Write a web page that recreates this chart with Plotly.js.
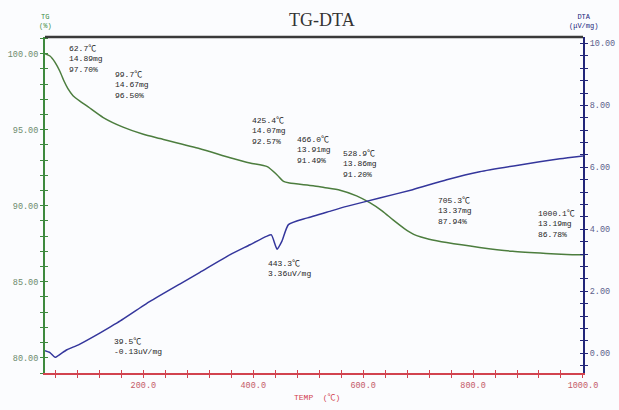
<!DOCTYPE html>
<html>
<head>
<meta charset="utf-8">
<script src="https://cdn.plot.ly/plotly-3.0.1.min.js"></script>
<style>
  html, body { margin: 0; padding: 0; background: #fbfcfe; }
  #chart { width: 619px; height: 410px; }
</style>
</head>
<body>
<div id="chart"></div>
<script>
// TG curve: temperature (°C) and residual mass (%)
const tgTemp = [21, 30, 39, 48, 56, 62.7, 72, 85, 99.7, 127, 163, 200, 230, 303, 358, 394, 425.4, 443, 455, 466.0, 509, 528.9, 558, 588, 612, 635, 655, 675, 692, 705.3, 720, 752, 812, 872, 933, 970, 1000.1];
const tgPct = [100.00, 99.85, 99.45, 98.85, 98.17, 97.70, 97.24, 96.87, 96.50, 95.80, 95.17, 94.70, 94.42, 93.75, 93.16, 92.81, 92.57, 92.04, 91.60, 91.49, 91.32, 91.20, 91.02, 90.65, 90.20, 89.65, 89.05, 88.50, 88.12, 87.94, 87.80, 87.58, 87.26, 87.00, 86.86, 86.80, 86.78];

// DTA curve: temperature (°C) and signal (µV/mg)
const dtaTemp = [21, 30, 39.5, 49, 61, 82, 115, 140, 158, 212, 267, 303, 358, 394, 424, 433, 443.3, 452, 464, 497, 539, 570, 630, 690, 752, 812, 885, 958, 1000];
const dtaVal = [0.08, 0.02, -0.13, -0.03, 0.11, 0.27, 0.59, 0.85, 1.04, 1.67, 2.24, 2.61, 3.18, 3.50, 3.77, 3.82, 3.36, 3.61, 4.15, 4.36, 4.58, 4.74, 5.01, 5.28, 5.60, 5.86, 6.08, 6.28, 6.37];

// Analysed TG points: temperature, mass (mg), residual (%)
const tgMarkTemp = [62.7, 99.7, 425.4, 466.0, 528.9, 705.3, 1000.1];
const tgMarkMass = [14.89, 14.67, 14.07, 13.91, 13.86, 13.37, 13.19];
const tgMarkPct = [97.70, 96.50, 92.57, 91.49, 91.20, 87.94, 86.78];

// Analysed DTA points: temperature, signal
const dtaMarkTemp = [39.5, 443.3];
const dtaMarkVal = [-0.13, 3.36];

// Axis ranges
const tempRange = [21, 1000.1];
const tgRange = [79.0, 101.1];
const dtaRange = [-0.64, 10.21];

// Label offsets (pixels) from each analysed point
const tgLabelShift = [[0, 46], [26, 38], [-16, 52], [6, 49], [18, 40], [16, 42], [-46, 47]];
const dtaLabelShift = [[58, 21], [-10, -9]];

const GREEN = '#3e8a3e';
const NAVY = '#22267a';
const RED = '#d2434f';
const monoFont = 'Liberation Mono, DejaVu Sans Mono, Noto Sans CJK JP, monospace';

const traces = [
  {
    x: tgTemp, y: tgPct, xaxis: 'x', yaxis: 'y', type: 'scatter', mode: 'lines',
    line: { color: '#4c7d3e', width: 1.5, shape: 'spline', smoothing: 0.6 },
    hoverinfo: 'skip', showlegend: false, cliponaxis: true
  },
  {
    x: dtaTemp, y: dtaVal, xaxis: 'x', yaxis: 'y2', type: 'scatter', mode: 'lines',
    line: { color: '#34369c', width: 1.5, shape: 'spline', smoothing: 0.5 },
    hoverinfo: 'skip', showlegend: false
  },
  // empty carriers for the inward tick overlays
  { x: [], y: [], xaxis: 'x2', yaxis: 'y', type: 'scatter', showlegend: false, hoverinfo: 'skip' },
  { x: [], y: [], xaxis: 'x', yaxis: 'y3', type: 'scatter', showlegend: false, hoverinfo: 'skip' },
  { x: [], y: [], xaxis: 'x', yaxis: 'y4', type: 'scatter', showlegend: false, hoverinfo: 'skip' }
];

const annotations = [];
tgMarkTemp.forEach((t, i) => {
  annotations.push({
    x: t, y: tgMarkPct[i], xref: 'x', yref: 'y',
    text: t.toFixed(1) + '℃<br>' + tgMarkMass[i].toFixed(2) + 'mg<br>' + tgMarkPct[i].toFixed(2) + '%',
    showarrow: false, xanchor: 'left', yanchor: 'top', align: 'left',
    xshift: tgLabelShift[i][0], yshift: tgLabelShift[i][1],
    font: { family: monoFont, size: 8, color: '#262626' }, borderpad: 0
  });
});
dtaMarkTemp.forEach((t, i) => {
  annotations.push({
    x: t, y: dtaMarkVal[i], xref: 'x', yref: 'y2',
    text: t.toFixed(1) + '℃<br>' + dtaMarkVal[i].toFixed(2) + 'uV/mg',
    showarrow: false, xanchor: 'left', yanchor: 'top', align: 'left',
    xshift: dtaLabelShift[i][0], yshift: dtaLabelShift[i][1],
    font: { family: monoFont, size: 8, color: '#262626' }, borderpad: 0
  });
});

// axis captions
annotations.push(
  { text: 'TG<br>(%)', xref: 'paper', yref: 'paper', x: 0, y: 1, xanchor: 'center', yanchor: 'bottom',
    yshift: 5, showarrow: false, font: { family: monoFont, size: 7, color: GREEN }, align: 'center' },
  { text: 'DTA<br>(μV/mg)', xref: 'paper', yref: 'paper', x: 1, y: 1, xanchor: 'center', yanchor: 'bottom',
    yshift: 5, showarrow: false, font: { family: monoFont, size: 7, color: NAVY }, align: 'center' },
  { text: 'TEMP  (℃)', xref: 'paper', yref: 'paper', x: 0.505, y: 0, xanchor: 'center', yanchor: 'top',
    yshift: -18, showarrow: false, font: { family: monoFont, size: 8, color: RED } }
);

const tickFont = (c) => ({ family: monoFont, size: 8.5, color: c });

const layout = {
  width: 619, height: 410,
  margin: { l: 45, r: 36, t: 37, b: 37, pad: 0 },
  paper_bgcolor: '#fbfcfe', plot_bgcolor: '#fbfcfe',
  title: {
    text: 'TG-DTA', x: 0.52, xref: 'container', xanchor: 'center', y: 0.953, yanchor: 'middle',
    font: { family: 'Liberation Serif, Times New Roman, serif', size: 18, color: '#333' }
  },
  xaxis: {
    range: tempRange, showgrid: false, zeroline: false,
    showline: true, linecolor: RED, linewidth: 1.5,
    ticks: 'outside', ticklen: 3, tickwidth: 1, tickcolor: RED,
    tick0: 200, dtick: 200, tickformat: '.1f', tickfont: tickFont('#c45a68'),
    minor: { ticks: 'outside', tick0: 0, dtick: 40, ticklen: 3, tickcolor: RED, showgrid: false }
  },
  xaxis2: {
    overlaying: 'x', anchor: 'y', side: 'bottom', range: tempRange, showgrid: false, zeroline: false,
    showline: false, showticklabels: false,
    ticks: 'inside', ticklen: 3, tickcolor: RED, tick0: 200, dtick: 200,
    minor: { ticks: 'inside', tick0: 0, dtick: 40, ticklen: 3, tickcolor: RED, showgrid: false }
  },
  yaxis: {
    range: tgRange, showgrid: false, zeroline: false,
    showline: true, linecolor: GREEN, linewidth: 2,
    ticks: 'outside', ticklen: 3, tickcolor: GREEN,
    tick0: 80, dtick: 5, tickformat: '.2f', tickfont: tickFont('#6d8a6d'),
    minor: { ticks: 'outside', tick0: 80, dtick: 1, ticklen: 3, tickcolor: GREEN, showgrid: false }
  },
  yaxis3: {
    overlaying: 'y', side: 'left', range: tgRange, showgrid: false, zeroline: false,
    showline: false, showticklabels: false,
    ticks: 'inside', ticklen: 3, tickcolor: GREEN, tick0: 80, dtick: 5,
    minor: { ticks: 'inside', tick0: 80, dtick: 1, ticklen: 3, tickcolor: GREEN, showgrid: false }
  },
  yaxis2: {
    overlaying: 'y', side: 'right', range: dtaRange, showgrid: false, zeroline: false,
    showline: true, linecolor: NAVY, linewidth: 2,
    ticks: 'outside', ticklen: 3, tickcolor: NAVY,
    tick0: 0, dtick: 2, tickformat: '.2f', tickfont: tickFont('#5c5f8c'),
    minor: { ticks: 'outside', tick0: 0, dtick: 0.4, ticklen: 3, tickcolor: NAVY, showgrid: false }
  },
  yaxis4: {
    overlaying: 'y', side: 'right', range: dtaRange, showgrid: false, zeroline: false,
    showline: false, showticklabels: false,
    ticks: 'inside', ticklen: 3, tickcolor: NAVY, tick0: 0, dtick: 2,
    minor: { ticks: 'inside', tick0: 0, dtick: 0.4, ticklen: 3, tickcolor: NAVY, showgrid: false }
  },
  shapes: [
    { type: 'line', xref: 'paper', yref: 'paper', x0: 0, x1: 1, y0: 1, y1: 1,
      line: { color: '#3a3a3a', width: 2.5 } }
  ],
  annotations: annotations
};

Plotly.newPlot('chart', traces, layout, { staticPlot: true, displayModeBar: false });
</script>
</body>
</html>
